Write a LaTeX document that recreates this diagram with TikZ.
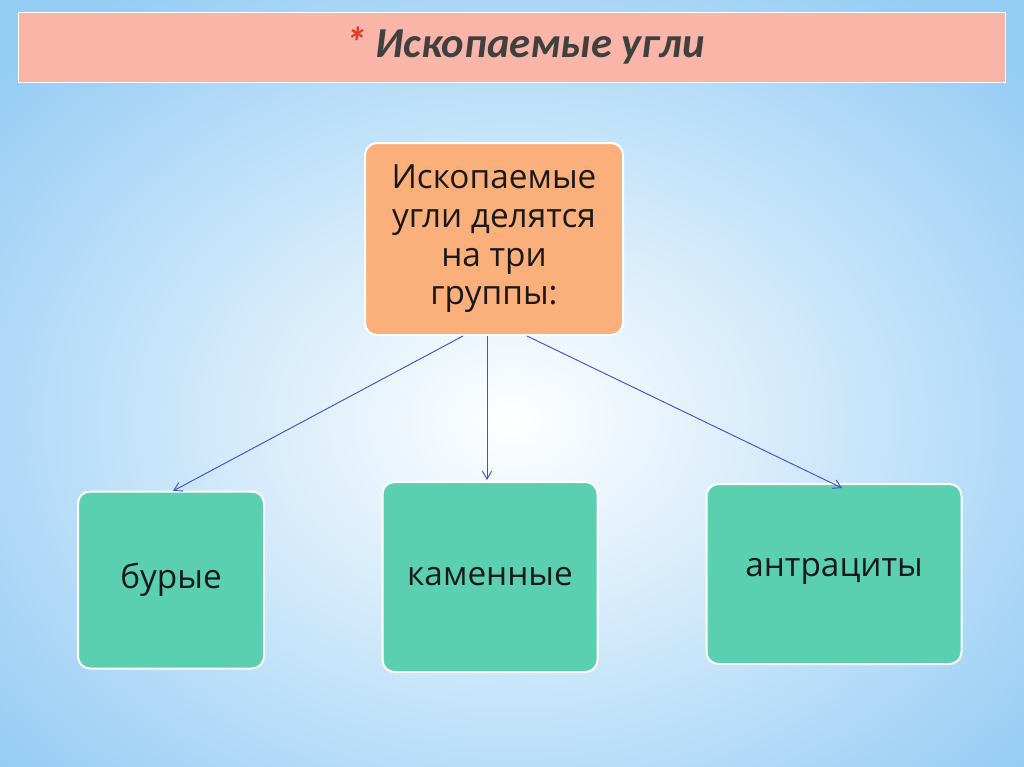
\documentclass[tikz,border=0pt]{standalone}
\usepackage{fontspec}
\setmainfont{Carlito}
\newfontfamily\boxfont{Open Sans}
\usetikzlibrary{arrows.meta}
\definecolor{bgblue}{RGB}{150,205,245}
\definecolor{salmon}{RGB}{249,181,167}
\definecolor{orangebox}{RGB}{251,176,124}
\definecolor{greenbox}{RGB}{90,208,176}
\definecolor{arr}{RGB}{70,80,200}
\definecolor{titlegray}{RGB}{64,64,64}
\definecolor{star}{RGB}{220,60,40}
\tikzset{
 box/.style={draw=white, line width=1.5pt, rounded corners=9pt, align=center, font=\boxfont\fontsize{25}{29}\selectfont, text=black!90, inner sep=0pt},
 conn/.style={draw=arr, line width=0.7pt, -{Straight Barb[length=6pt,width=7pt]}}
}
\begin{document}
\begin{tikzpicture}[x=0.75pt,y=-0.75pt]
\useasboundingbox (0,0) rectangle (1024,767);
\fill[bgblue] (0,0) rectangle (1024,767);
\shade[inner color=white, outer color=bgblue] (512,420) ellipse (680 and 520);
\node[fill=salmon, draw=white, line width=1pt, minimum width=987*0.75pt, minimum height=70*0.75pt, anchor=north west] (title) at (18,12) {};
\node[font=\fontsize{32}{36}\selectfont\bfseries\itshape, text=titlegray] at (525,46) {\textcolor{star}{*} Ископаемые угли};
\node[box, fill=orangebox, minimum width=258*0.75pt, minimum height=192*0.75pt] (top) at (494,239) {Ископаемые\\угли делятся\\на три\\группы:};
\node[box, fill=greenbox, minimum width=186*0.75pt, minimum height=177*0.75pt] (b1) at (171,580) {бурые};
\node[box, fill=greenbox, minimum width=215*0.75pt, minimum height=190*0.75pt] (b2) at (490,577) {каменные};
\node[box, fill=greenbox, minimum width=255*0.75pt, minimum height=180*0.75pt] (b3) at (834,574) {\raisebox{10pt}{антрациты}};
\draw[conn] (top.south -| 463,0) -- (173,491);
\draw[conn] (top.south -| 487,0) -- (487,480);
\draw[conn] (top.south -| 527,0) -- (842,488);
\end{tikzpicture}
\end{document}
